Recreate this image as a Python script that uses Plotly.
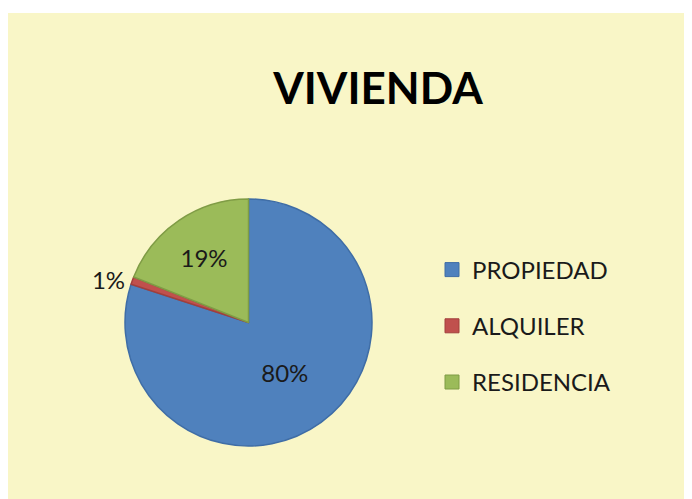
import plotly.graph_objects as go

categories = ["PROPIEDAD", "ALQUILER", "RESIDENCIA"]
values = [80, 1, 19]
colors = ["#4F81BD", "#C0504D", "#9BBB59"]
edge_colors = ["#3F6DA6", "#A23F3C", "#7F9C45"]
title_text = "VIVIENDA"

OFF = 8  # page offset of the figure (body margin)
W, H = 692 - OFF, 499 - OFF
FONT = "Lato, Open Sans, sans-serif"

def px(x):
    return (x - OFF) / W

def py(y):
    return 1 - (y - OFF) / H

fig = go.Figure()

fig.add_trace(go.Pie(
    labels=categories,
    values=values,
    sort=False,
    direction="clockwise",
    rotation=0,
    marker=dict(colors=colors, line=dict(color=edge_colors, width=1.5)),
    texttemplate="%{percent:.0%}",
    textposition=["inside", "outside", "inside"],
    insidetextorientation="horizontal",
    textfont=dict(family=FONT, size=24, color="#1a1a1a"),
    outsidetextfont=dict(family=FONT, size=24, color="#1a1a1a"),
    domain=dict(x=[px(125), px(372)], y=[py(446), py(199)]),
    showlegend=False,
    hoverinfo="label+percent",
))

for i, (name, c, ec) in enumerate(zip(categories, colors, edge_colors)):
    fig.add_trace(go.Scatter(
        x=[None], y=[None], mode="markers", name=name,
        legendgroup=f"g{i}",
        marker=dict(symbol="square", size=14, color=c, line=dict(color=ec, width=1)),
    ))

fig.update_layout(
    width=W, height=H,
    margin=dict(l=0, r=0, t=0, b=0),
    paper_bgcolor="#F9F6C7",
    plot_bgcolor="rgba(0,0,0,0)",
    xaxis=dict(visible=False),
    yaxis=dict(visible=False),
    title=dict(text=f"<b>{title_text}</b>", x=px(378), y=py(89),
               xanchor="center", yanchor="middle",
               font=dict(family=FONT, size=44, color="black")),
    legend=dict(x=px(432), y=py(326), xanchor="left", yanchor="middle",
                font=dict(family=FONT, size=24, color="#1a1a1a"),
                bgcolor="rgba(0,0,0,0)", tracegroupgap=22),
    shapes=[dict(type="rect", xref="paper", yref="paper",
                 x0=0, x1=1, y0=py(13), y1=1,
                 fillcolor="white", line=dict(width=0), layer="below")],
)

fig.write_html("out.html")
